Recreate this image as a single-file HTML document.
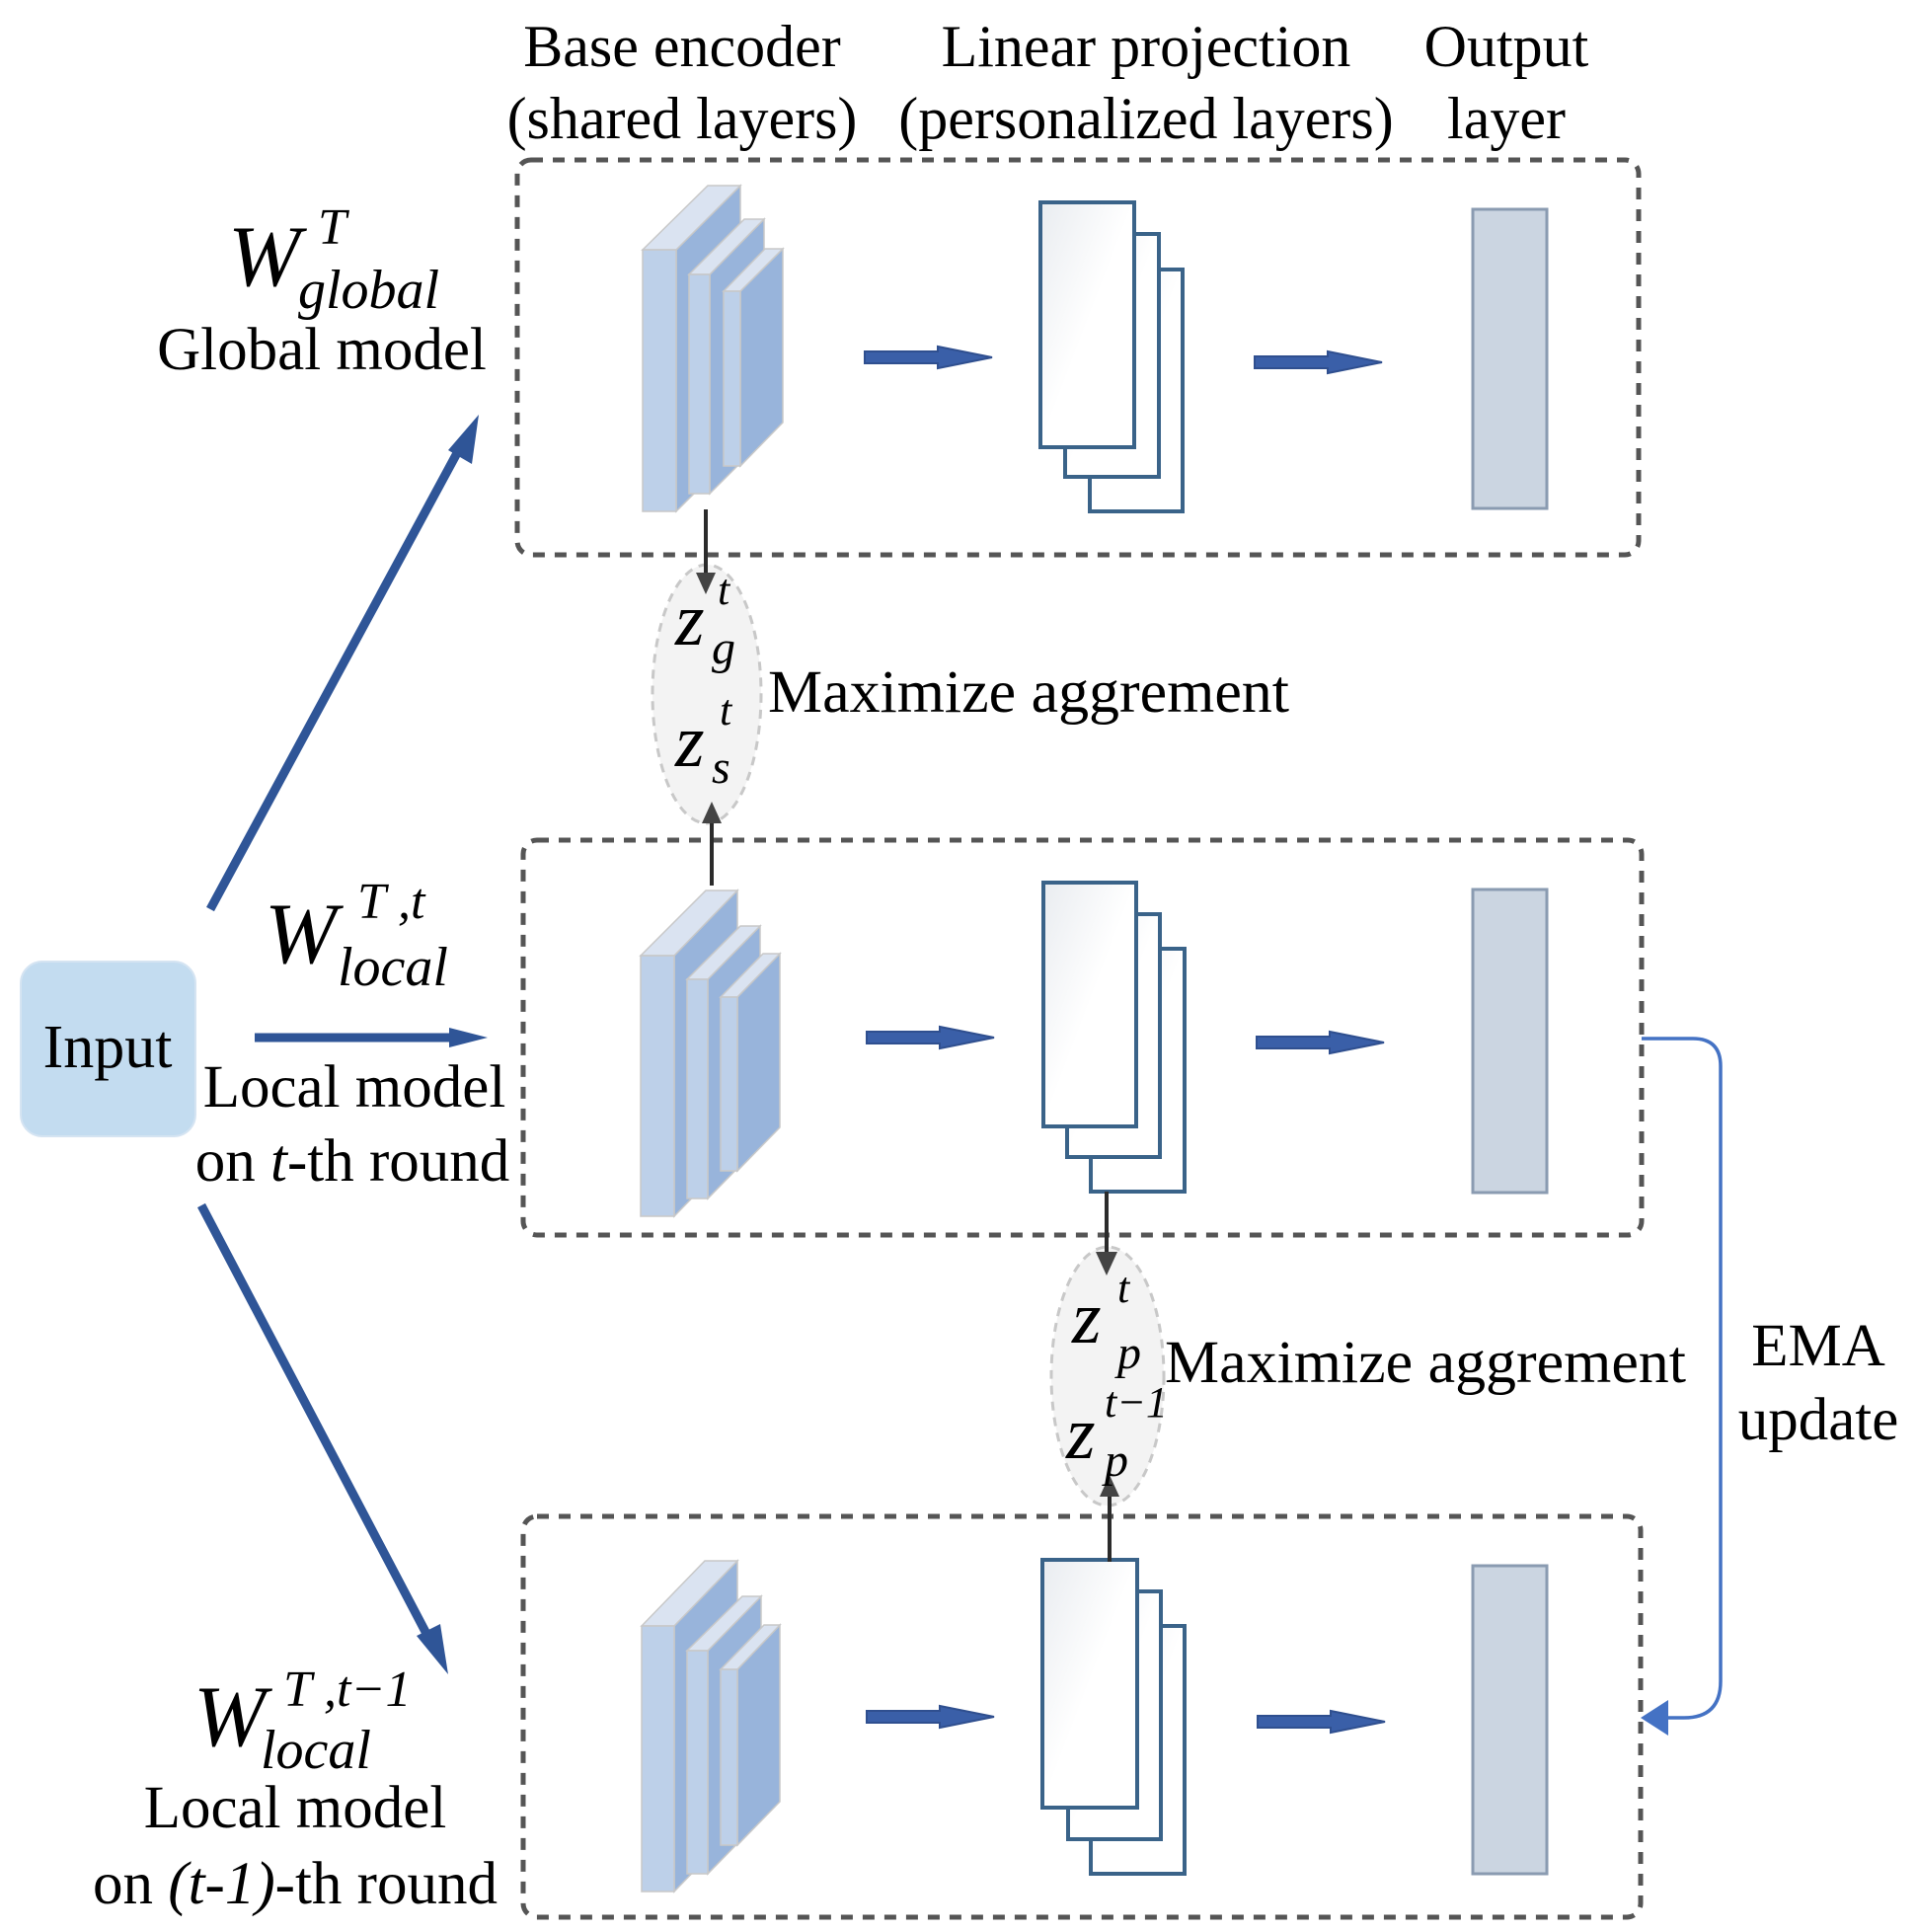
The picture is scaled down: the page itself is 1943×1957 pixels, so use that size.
<!DOCTYPE html>
<html><head><meta charset="utf-8"><style>html,body{margin:0;padding:0;background:#fff}svg{display:block}</style></head>
<body>
<svg width="1943" height="1957" viewBox="0 0 1943 1957" xmlns="http://www.w3.org/2000/svg" font-family="'Liberation Serif', serif">
<defs>
<linearGradient id="lg" x1="0" y1="0" x2="1" y2="1"><stop offset="0" stop-color="#e9ecf0"/><stop offset="0.5" stop-color="#ffffff"/><stop offset="1" stop-color="#ffffff"/></linearGradient>
</defs>

<!-- Headers -->
<g font-size="60" text-anchor="middle" fill="#000">
<text x="691" y="67">Base encoder</text>
<text x="691" y="140">(shared layers)</text>
<text x="1161" y="67">Linear projection</text>
<text x="1161" y="140">(personalized layers)</text>
<text x="1526" y="67">Output</text>
<text x="1526" y="140">layer</text>
</g>

<!-- Boxes -->
<g fill="none" stroke="#555" stroke-width="5" stroke-dasharray="12 10">
<rect x="524" y="162" width="1136" height="400" rx="14"/>
<rect x="530" y="851" width="1133" height="400" rx="14"/>
<rect x="530" y="1536" width="1132" height="406" rx="14"/>
</g>

<!-- Row 1 encoder -->
<g stroke="#c8c8c8" stroke-width="1.5">
<polygon points="685,253 750,188 750,453 685,518" fill="#98b4db"/>
<polygon points="651,253 717,188 750,188 685,253" fill="#dae3f1"/>
<rect x="651" y="253" width="34" height="265" fill="#bdd0e9"/>
<polygon points="719,278 774,222 774,445 719,500" fill="#98b4db"/>
<polygon points="698,278 754,222 774,222 719,278" fill="#dae3f1"/>
<rect x="698" y="278" width="21" height="222" fill="#bdd0e9"/>
<polygon points="750,295 793,252 793,428 750,472" fill="#98b4db"/>
<polygon points="733,295 775,252 793,252 750,295" fill="#dae3f1"/>
<rect x="733" y="295" width="17" height="177" fill="#bdd0e9"/>
</g>
<!-- Row 2 encoder -->
<g stroke="#c8c8c8" stroke-width="1.5">
<polygon points="683,968 747,902 747,1166 683,1232" fill="#98b4db"/>
<polygon points="649,968 715,902 747,902 683,968" fill="#dae3f1"/>
<rect x="649" y="968" width="34" height="264" fill="#bdd0e9"/>
<polygon points="717,992 770,938 770,1160 717,1214" fill="#98b4db"/>
<polygon points="696,992 750,938 770,938 717,992" fill="#dae3f1"/>
<rect x="696" y="992" width="21" height="222" fill="#bdd0e9"/>
<polygon points="747,1010 790,966 790,1142 747,1186" fill="#98b4db"/>
<polygon points="730,1010 773,966 790,966 747,1010" fill="#dae3f1"/>
<rect x="730" y="1010" width="17" height="176" fill="#bdd0e9"/>
</g>
<!-- Row 3 encoder -->
<g stroke="#c8c8c8" stroke-width="1.5">
<polygon points="683,1647 747,1581 747,1850 683,1916" fill="#98b4db"/>
<polygon points="650,1647 714,1581 747,1581 683,1647" fill="#dae3f1"/>
<rect x="650" y="1647" width="33" height="269" fill="#bdd0e9"/>
<polygon points="717,1672 771,1617 771,1843 717,1898" fill="#98b4db"/>
<polygon points="696,1672 752,1617 771,1617 717,1672" fill="#dae3f1"/>
<rect x="696" y="1672" width="21" height="226" fill="#bdd0e9"/>
<polygon points="747,1691 790,1646 790,1825 747,1869" fill="#98b4db"/>
<polygon points="730,1691 774,1646 790,1646 747,1691" fill="#dae3f1"/>
<rect x="730" y="1691" width="17" height="178" fill="#bdd0e9"/>
</g>

<!-- block arrows -->
<g fill="#3a5fa8" stroke="#2f4f8f" stroke-width="2">
<path d="M876,356 L950,356 L950,351 L1005,362 L950,373 L950,368 L876,368 z"/>
<path d="M1271,361 L1345,361 L1345,356 L1400,367 L1345,378 L1345,373 L1271,373 z"/>
<path d="M878,1045 L952,1045 L952,1040 L1007,1051 L952,1062 L952,1057 L878,1057 z"/>
<path d="M1273,1050 L1347,1050 L1347,1045 L1402,1056 L1347,1067 L1347,1062 L1273,1062 z"/>
<path d="M878,1733 L952,1733 L952,1728 L1007,1739 L952,1750 L952,1745 L878,1745 z"/>
<path d="M1274,1738 L1348,1738 L1348,1733 L1403,1744 L1348,1755 L1348,1750 L1274,1750 z"/>
</g>

<!-- linear stacks -->
<g fill="url(#lg)" stroke="#3a6389" stroke-width="4">
<rect x="1104" y="273" width="94" height="245"/>
<rect x="1079" y="237" width="95" height="246"/>
<rect x="1054" y="205" width="95" height="248"/>
<rect x="1105" y="961" width="95" height="246"/>
<rect x="1081" y="926" width="94" height="246"/>
<rect x="1057" y="894" width="94" height="247"/>
<rect x="1105" y="1647" width="95" height="251"/>
<rect x="1082" y="1612" width="94" height="251"/>
<rect x="1056" y="1580" width="96" height="251"/>
</g>

<!-- output layers -->
<g fill="#cbd5e1" stroke="#8a9bb1" stroke-width="3">
<rect x="1492" y="212" width="75" height="303"/>
<rect x="1492" y="901" width="75" height="307"/>
<rect x="1492" y="1586" width="75" height="312"/>
</g>

<!-- ellipses -->
<g fill="#f3f3f3" stroke="#c8c8c8" stroke-width="3" stroke-dasharray="9 7">
<ellipse cx="716" cy="703" rx="55" ry="131"/>
<ellipse cx="1122" cy="1394" rx="57" ry="131"/>
</g>

<!-- small arrows -->
<g stroke="#2b2b2b" stroke-width="4" fill="none">
<line x1="715" y1="516" x2="715" y2="585"/>
<line x1="721" y1="897" x2="721" y2="830"/>
<line x1="1121" y1="1207" x2="1121" y2="1275"/>
<line x1="1124" y1="1582" x2="1124" y2="1512"/>
</g>
<g fill="#444">
<path d="M705,580 L725,580 L715,602 z"/>
<path d="M711,834 L731,834 L721,812 z"/>
<path d="M1110,1268 L1132,1268 L1121,1292 z"/>
<path d="M1114,1516 L1134,1516 L1124,1494 z"/>
</g>

<!-- EMA curve -->
<path d="M1663,1052 L1715,1052 Q1743,1052 1743,1080 L1743,1703 Q1743,1740 1706,1740 L1675,1740" fill="none" stroke="#4472c4" stroke-width="3.5"/>
<path d="M1662,1740 L1690,1722 L1690,1758 z" fill="#4472c4"/>

<!-- Input box -->
<rect x="21" y="974" width="177" height="177" rx="22" fill="#c3dcf0" stroke="#d5e4f2" stroke-width="2"/>
<text x="109" y="1081" font-size="62" text-anchor="middle">Input</text>

<!-- big input arrows -->
<g stroke="#2f5597" stroke-width="9" fill="none">
<line x1="213" y1="921" x2="470" y2="446"/>
<line x1="258" y1="1051" x2="470" y2="1051"/>
<line x1="204" y1="1221" x2="440" y2="1670"/>
</g>
<g fill="#2f5597">
<path d="M485,420 L478,470 L466,463 L454,456 z"/>
<path d="M494,1051 L455,1041 L455,1061 z"/>
<path d="M454,1696 L422,1657 L446,1645 z"/>
</g>

<!-- Left labels -->
<g fill="#000">
<text x="231" y="289" font-size="88" font-style="italic">W</text>
<text x="322" y="247" font-size="52" font-style="italic">T</text>
<text x="302" y="312" font-size="56" font-style="italic">global</text>
<text x="326" y="374" font-size="61" text-anchor="middle">Global model</text>

<text x="268" y="975" font-size="88" font-style="italic">W</text>
<text x="362" y="930" font-size="52" font-style="italic">T ,t</text>
<text x="342" y="998" font-size="56" font-style="italic">local</text>
<text x="359" y="1121" font-size="61" text-anchor="middle">Local model</text>
<text x="357" y="1196" font-size="61" text-anchor="middle">on <tspan font-style="italic">t</tspan>-th round</text>

<text x="196" y="1768" font-size="88" font-style="italic">W</text>
<text x="287" y="1728" font-size="52" font-style="italic">T ,t−1</text>
<text x="264" y="1791" font-size="56" font-style="italic">local</text>
<text x="299" y="1851" font-size="61" text-anchor="middle">Local model</text>
<text x="299" y="1928" font-size="61" text-anchor="middle">on <tspan font-style="italic">(t-1)</tspan>-th round</text>
</g>

<!-- z labels -->
<g fill="#000" font-style="italic">
<text x="684" y="653" font-size="76">z</text>
<text x="727" y="612" font-size="44">t</text>
<text x="721" y="672" font-size="48">g</text>
<text x="684" y="776" font-size="76">z</text>
<text x="729" y="734" font-size="44">t</text>
<text x="721" y="793" font-size="48">s</text>
<text x="1086" y="1360" font-size="76">z</text>
<text x="1132" y="1319" font-size="44">t</text>
<text x="1132" y="1386" font-size="48">p</text>
<text x="1080" y="1477" font-size="76">z</text>
<text x="1119" y="1435" font-size="44">t−1</text>
<text x="1119" y="1495" font-size="48">p</text>
</g>

<g fill="#000" font-size="61">
<text x="778" y="721" textLength="528" lengthAdjust="spacingAndGlyphs">Maximize aggrement</text>
<text x="1180" y="1400" textLength="528" lengthAdjust="spacingAndGlyphs">Maximize aggrement</text>
<text x="1842" y="1383" text-anchor="middle">EMA</text>
<text x="1842" y="1458" text-anchor="middle">update</text>
</g>
</svg>
</body></html>
